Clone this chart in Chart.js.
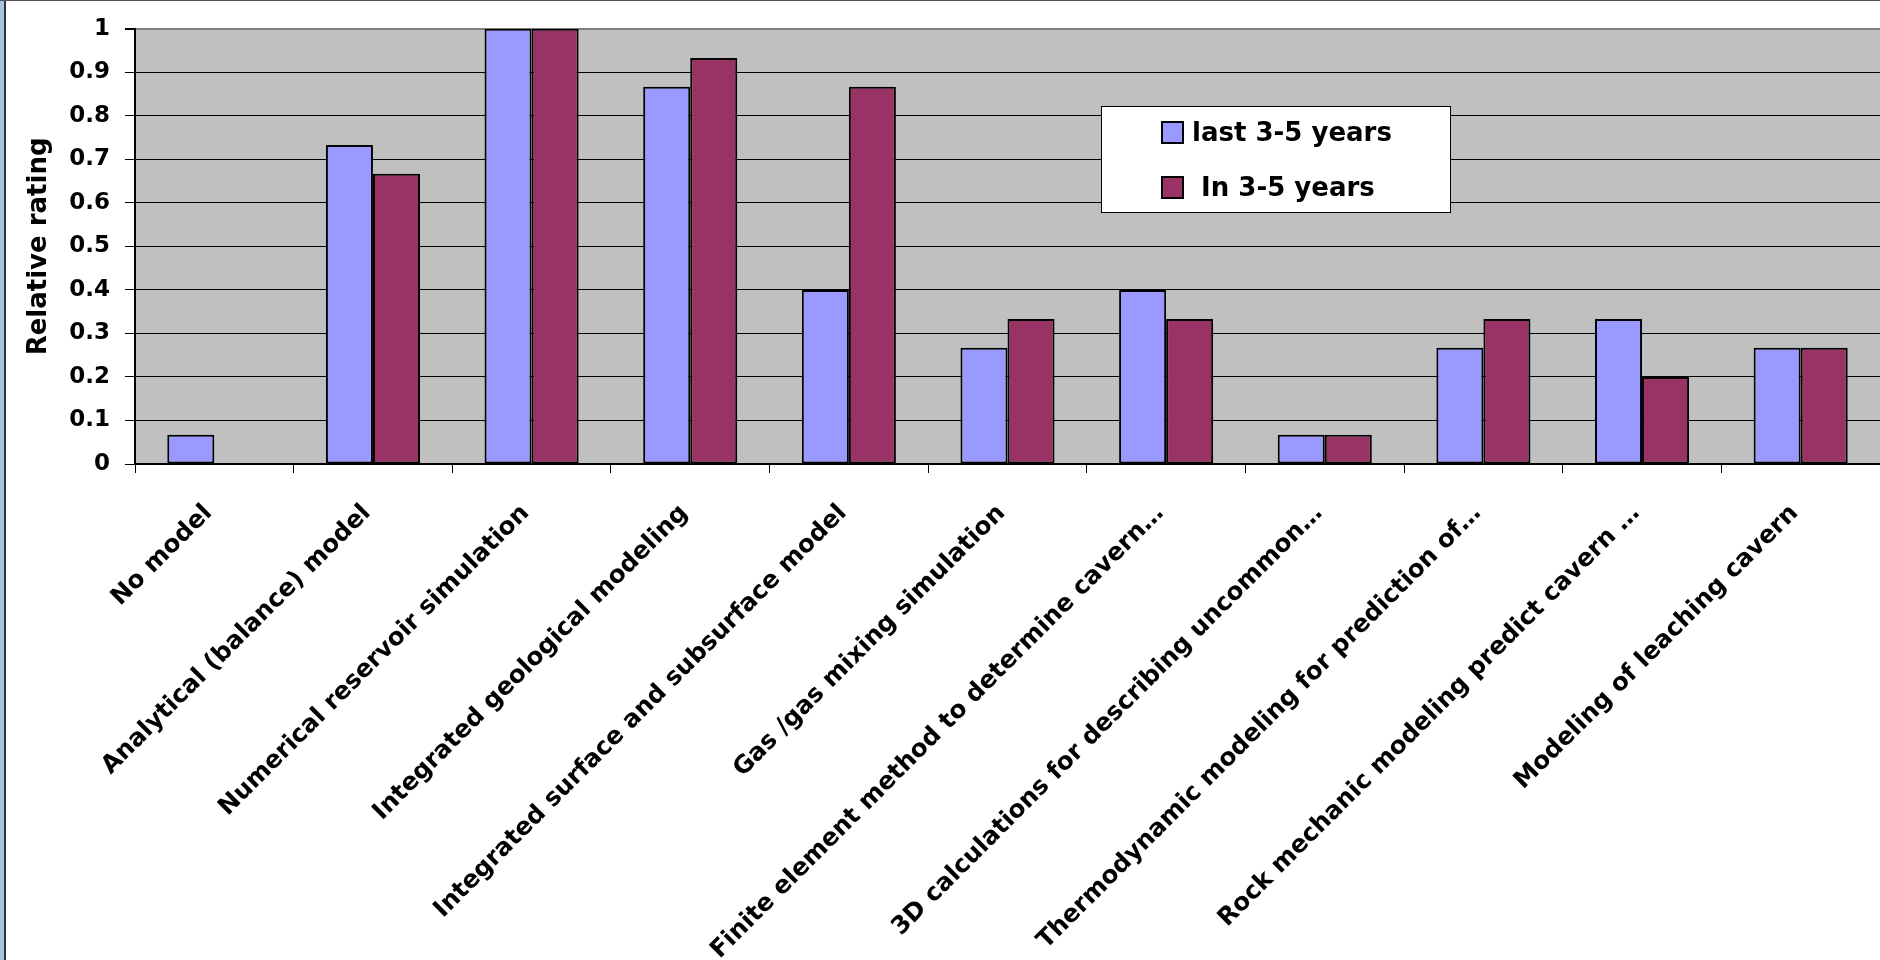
<!DOCTYPE html>
<html>
<head>
<meta charset="utf-8">
<script src="https://cdn.jsdelivr.net/npm/chart.js@4"></script>
<style>
  html, body { margin: 0; padding: 0; background: #fff; overflow: hidden; }
  #wrap { width: 1880px; height: 960px; }
</style>
</head>
<body>
<div id="wrap"><canvas id="ratingChart"></canvas></div>
<script>
// data
const categories = [
    'No model',
    'Analytical (balance) model',
    'Numerical reservoir simulation',
    'Integrated geological modeling',
    'Integrated surface and subsurface model',
    'Gas /gas mixing simulation',
    'Finite element method to determine cavern…',
    '3D calculations for describing uncommon…',
    'Thermodynamic modeling for prediction of…',
    'Rock mechanic modeling predict cavern …',
    'Modeling of leaching cavern'
];
const lastYears = [0.067, 0.733, 1, 0.867, 0.4, 0.267, 0.4, 0.067, 0.267, 0.333, 0.267];
const nextYears = [0, 0.667, 1, 0.933, 0.867, 0.333, 0.333, 0.067, 0.333, 0.2, 0.267];
const seriesNames = ['last 3-5 years', ' In 3-5 years'];
const yTickLabels = ['0', '0.1', '0.2', '0.3', '0.4', '0.5', '0.6', '0.7', '0.8', '0.9', '1'];

const FONT = "'DejaVu Sans', sans-serif";

// frame, plot background
const backdrop = {
    id: 'backdrop',
    beforeDraw(chart) {
        const c = chart.ctx;
        const a = chart.chartArea;
        c.save();
        c.fillStyle = '#fff';
        c.fillRect(0, 0, chart.width, chart.height);
        c.fillStyle = '#a7c3e3';
        c.fillRect(0, 0, 4, chart.height);
        c.fillStyle = '#333';
        c.fillRect(4, 0, 2, chart.height);
        c.fillStyle = '#555';
        c.fillRect(0, 0, chart.width, 1);
        c.fillStyle = '#c0c0c0';
        c.fillRect(a.left, a.top, a.right - a.left, a.bottom - a.top);
        c.restore();
    }
};

// legend box inside the plot
const boxLegend = {
    id: 'boxLegend',
    afterDraw(chart) {
        const c = chart.ctx;
        c.save();
        c.fillStyle = '#fff';
        c.fillRect(1101, 106, 349, 106);
        c.strokeStyle = '#000';
        c.lineWidth = 1;
        c.strokeRect(1101.5, 106.5, 349, 106);
        c.font = 'bold 26px ' + FONT;
        c.textBaseline = 'middle';
        chart.data.datasets.forEach(function(ds, i) {
            const y = 133 + i * 55;
            c.fillStyle = ds.backgroundColor;
            c.fillRect(1162, y - 11, 21, 21);
            c.strokeStyle = '#000';
            c.lineWidth = 2;
            c.strokeRect(1162, y - 11, 21, 21);
            c.fillStyle = '#000';
            c.fillText(ds.label, 1192, y + 1);
        });
        c.restore();
    }
};

const ctx = document.getElementById('ratingChart').getContext('2d');
const ratingChart = new Chart(ctx, {
    type: 'bar',
    data: {
        labels: categories,
        datasets: [{
            label: seriesNames[0],
            data: lastYears,
            backgroundColor: '#9999ff',
            borderColor: '#000',
            borderWidth: 2,
            borderSkipped: false
        }, {
            label: seriesNames[1],
            data: nextYears,
            backgroundColor: '#993366',
            borderColor: '#000',
            borderWidth: 2,
            borderSkipped: false
        }]
    },
    options: {
        responsive: true,
        maintainAspectRatio: false,
        animation: false,
        events: [],
        layout: { padding: { top: 25, left: 0, right: 0, bottom: 0 } },
        datasets: { bar: { categoryPercentage: 0.593, barPercentage: 1 } },
        plugins: {
            legend: { display: false },
            tooltip: { enabled: false }
        },
        scales: {
            x: {
                grid: {
                    offset: true,
                    drawOnChartArea: false,
                    drawTicks: true,
                    tickLength: 9,
                    color: '#000'
                },
                border: { color: '#000', width: 2 },
                ticks: {
                    autoSkip: false,
                    maxRotation: 45,
                    minRotation: 45,
                    padding: 26,
                    labelOffset: -6,
                    color: '#000',
                    font: { family: FONT, size: 24.5, weight: 'bold' }
                },
                afterFit(scale) { scale.height = 496; }
            },
            y: {
                min: 0,
                max: 1,
                grid: {
                    color: function(c) { return c.tick && c.tick.value === 1 ? '#808080' : '#000'; },
                    lineWidth: function(c) { return c.tick && c.tick.value === 1 ? 2 : 1; },
                    tickLength: 10,
                    tickColor: '#000'
                },
                border: { color: '#000', width: 2 },
                ticks: {
                    stepSize: 0.1,
                    padding: 15,
                    color: '#000',
                    font: { family: FONT, size: 23, weight: 'bold' },
                    callback: function(v, i) { return yTickLabels[i]; }
                },
                title: {
                    display: true,
                    text: 'Relative rating',
                    color: '#000',
                    padding: { top: 24, bottom: 0 },
                    font: { family: FONT, size: 26, weight: 'bold' }
                },
                afterFit(scale) { scale.width = 135; }
            }
        }
    },
    plugins: [backdrop, boxLegend]
});
</script>
</body>
</html>
